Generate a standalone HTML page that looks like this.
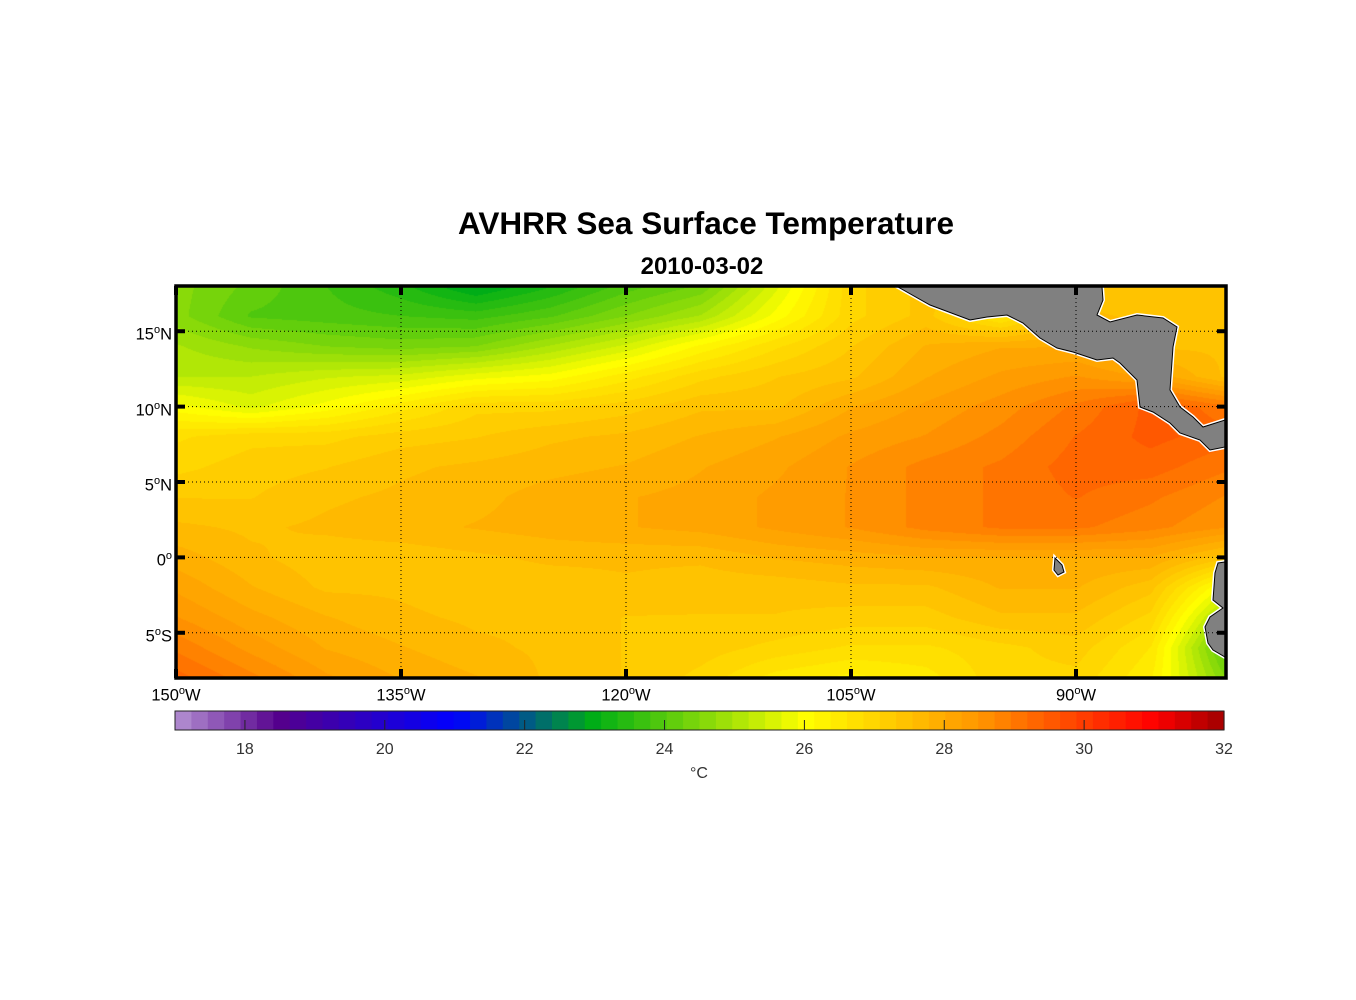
<!DOCTYPE html>
<html><head><meta charset="utf-8">
<style>
html,body{margin:0;padding:0;background:#fff;}
#wrap{position:relative;width:1356px;height:1000px;overflow:hidden;font-family:"Liberation Sans",sans-serif;}
.t{position:absolute;white-space:nowrap;}
canvas{position:absolute;}
svg{position:absolute;left:0;top:0;}
</style></head>
<body>
<div id="wrap">
<div class="t" style="left:0;width:1412px;text-align:center;top:205px;font-size:31.5px;font-weight:bold;">AVHRR Sea Surface Temperature</div>
<div class="t" style="left:0;width:1404px;text-align:center;top:253px;font-size:24px;font-weight:bold;">2010-03-02</div>
<canvas id="map" width="1050" height="392" style="left:176px;top:286px;"></canvas>
<svg id="ov" width="1356" height="1000"></svg>
<div id="labels"></div>
</div>
<script>
// ---- data ----
const lats = [18,16,14,12,10,8,6,4,2,0,-2,-4,-6,-8];
const lons = [-150,-145,-140,-135,-130,-125,-120,-115,-110,-105,-100,-95,-90,-85,-80];
const sstRow18 = [24.6,24.2,23.8,23.4,22.8,23.3,23.9,24.3,25.6,27.0,27.4,27.4,27.4,27.4,27.4];
const sstRow16 = [24.6,24.0,23.9,23.8,23.7,24.0,24.5,25.0,26.0,27.0,27.4,26.5,27.6,27.5,27.5];
const sstRow14 = [25.0,24.7,24.5,24.4,24.5,25.0,25.5,26.2,26.8,27.3,27.8,28.0,28.0,27.5,27.5];
const sstRow12 = [25.2,25.2,25.4,25.5,25.8,26.0,26.5,27.0,27.3,27.5,28.0,28.3,28.5,28.2,27.5];
const sstRow10 = [26.0,25.6,26.0,26.5,27.0,27.0,27.2,27.5,27.5,28.0,28.3,28.6,29.0,29.5,29.0];
const sstRow8  = [26.8,27.0,27.0,27.2,27.3,27.5,27.6,27.8,28.0,28.3,28.5,28.8,29.2,29.5,29.3];
const sstRow6  = [27.0,27.2,27.3,27.5,27.6,27.7,27.8,28.0,28.2,28.5,28.8,29.0,29.3,29.3,29.0];
const sstRow4  = [27.3,27.3,27.5,27.6,27.7,27.9,28.0,28.1,28.3,28.5,28.8,29.0,29.2,29.0,28.7];
const sstRow2  = [27.6,27.5,27.6,27.7,27.8,27.9,28.0,28.1,28.3,28.5,28.8,29.0,29.0,28.8,28.5];
const sstRow0  = [27.9,27.6,27.4,27.4,27.5,27.6,27.6,27.6,27.8,27.9,28.0,28.0,28.0,28.0,27.4];
const sstRowS2 = [28.2,27.8,27.5,27.5,27.4,27.4,27.5,27.4,27.4,27.5,27.5,27.8,27.8,27.4,25.8];
const sstRowS4 = [28.5,28.1,27.8,27.6,27.5,27.5,27.3,27.3,27.3,27.2,27.2,27.5,27.5,27.0,24.8];
const sstRowS6 = [28.9,28.4,28.0,27.8,27.6,27.5,27.3,27.2,27.0,26.8,26.8,27.0,27.2,26.6,24.0];
const sstRowS8 = [29.3,28.8,28.3,28.0,27.8,27.5,27.3,27.0,26.5,26.3,26.5,27.0,27.0,26.4,24.5];
const sst = [sstRow18,sstRow16,sstRow14,sstRow12,sstRow10,sstRow8,sstRow6,sstRow4,sstRow2,sstRow0,sstRowS2,sstRowS4,sstRowS6,sstRowS8];
const lonTicks = [-150,-135,-120,-105,-90];
const lonTickLabels = ["150","135","120","105","90"];
const latTicks = [15,10,5,0,-5];
const latTickLabels = ["15","10","5","0","5"];
const latTickSuffix = ["N","N","N","",'S'];
const cbarTicks = [18,20,22,24,26,28,30,32];
const cmin = 17, cmax = 32;

// ---- axes ----
const X0=176,X1=1226,Y0=286,Y1=678;
const lonMin=-150,lonMax=-80,latMin=-8,latMax=18;
const xs = lon => X0 + (lon-lonMin)/(lonMax-lonMin)*(X1-X0);
const ys = lat => Y0 + (latMax-lat)/(latMax-latMin)*(Y1-Y0);
const CB0=175,CB1=1224,CBY=711,CBH=19;
const xc = v => CB0 + (v-cmin)/(cmax-cmin)*(CB1-CB0);

const stops=[[17,[180,145,210]],[18.5,[85,0,140]],[21,[0,0,255]],[23,[0,175,20]],[26,[255,255,0]],[28.5,[255,150,0]],[31,[255,0,0]],[32,[160,0,0]]];
function cmap(v){
  const n=64; v=Math.max(cmin,Math.min(cmax-1e-6,v));
  const k=Math.floor((v-cmin)/(cmax-cmin)*n); v=cmin+(k+0.5)*(cmax-cmin)/n;
  for(let i=0;i<stops.length-1;i++){const a=stops[i],b=stops[i+1];
    if(v<=b[0]){const t=(v-a[0])/(b[0]-a[0]);return a[1].map((c,j)=>Math.round(c+(b[1][j]-c)*t));}}
  return stops[stops.length-1][1];
}
function sample(lon,lat){
  let fi=(lats[0]-lat)/(lats[0]-lats[lats.length-1])*(lats.length-1);
  let fj=(lon-lons[0])/(lons[lons.length-1]-lons[0])*(lons.length-1);
  fi=Math.max(0,Math.min(lats.length-1.0001,fi)); fj=Math.max(0,Math.min(lons.length-1.0001,fj));
  const i=Math.floor(fi),j=Math.floor(fj),a=fi-i,b=fj-j;
  return (sst[i][j]*(1-b)+sst[i][j+1]*b)*(1-a)+(sst[i+1][j]*(1-b)+sst[i+1][j+1]*b)*a;
}
const cv=document.getElementById('map'),ctx=cv.getContext('2d');
const img=ctx.createImageData(cv.width,cv.height);
for(let y=0;y<cv.height;y++)for(let x=0;x<cv.width;x++){
  const lon=lonMin+(x+0.5)/cv.width*(lonMax-lonMin), lat=latMax-(y+0.5)/cv.height*(latMax-latMin);
  const c=cmap(sample(lon,lat)); const p=(y*cv.width+x)*4;
  img.data[p]=c[0];img.data[p+1]=c[1];img.data[p+2]=c[2];img.data[p+3]=255;}
ctx.putImageData(img,0,0);

const NS='http://www.w3.org/2000/svg', ov=document.getElementById('ov');
function el(tag,attrs){const e=document.createElementNS(NS,tag);for(const k in attrs)e.setAttribute(k,attrs[k]);ov.appendChild(e);return e;}
const land1="M898,287 L930,305 L970,320 L987,317 L1007,315 L1023,323 L1040,338 L1057,348 L1073,352 L1097,360 L1113,358 L1120,363 L1137,380 L1140,407 L1153,412 L1170,423 L1180,433 L1200,440 L1210,450 L1225,447 L1225,420 L1203,427 L1193,417 L1180,407 L1170,390 L1173,347 L1177,327 L1163,318 L1137,315 L1110,322 L1097,315 L1103,300 L1102,287 Z";
const land2="M1225,562 L1218,563 L1215,573 L1213,600 L1223,608 L1210,617 L1205,627 L1208,643 L1213,650 L1225,657 Z";
const island="M1055,558 L1062,565 L1064,572 L1058,575 L1054,570 Z";
[land1,land2,island].forEach((d,i)=>{
  const p=el('path',{d:d,fill:'#808080',stroke:'#fff','stroke-width':4});
  
  
  const q=el('path',{d:d,fill:'#808080',stroke:'#000','stroke-width':1});
  
  
});
el('rect',{x:X0,y:Y0-6,width:X1-X0,height:6,fill:'#fff'});
el('rect',{x:X1,y:Y0,width:8,height:Y1-Y0,fill:'#fff'});
lonTicks.forEach(l=>{const g=el('line',{x1:xs(l),x2:xs(l),y1:Y0,y2:Y1,stroke:'#000','stroke-width':1,'stroke-dasharray':'1,3'});
  });
latTicks.forEach(l=>{const g=el('line',{x1:X0,x2:X1,y1:ys(l),y2:ys(l),stroke:'#000','stroke-width':1,'stroke-dasharray':'1,3'});
  });
const fr=el('rect',{x:X0,y:Y0,width:X1-X0,height:Y1-Y0,fill:'none',stroke:'#000','stroke-width':3.5});

lonTicks.forEach(l=>{[[Y0,Y0+9],[Y1-9,Y1]].forEach(a=>{const t=el('line',{x1:xs(l),x2:xs(l),y1:a[0],y2:a[1],stroke:'#000','stroke-width':4});
  });});
latTicks.forEach(l=>{[[X0,X0+9],[X1-9,X1]].forEach(a=>{const t=el('line',{x1:a[0],x2:a[1],y1:ys(l),y2:ys(l),stroke:'#000','stroke-width':4});
  });});
const nb=64;
for(let k=0;k<nb;k++){const v0=cmin+k*(cmax-cmin)/nb,v1=cmin+(k+1)*(cmax-cmin)/nb,c=cmap((v0+v1)/2);
  const r=el('rect',{x:xc(v0),y:CBY,width:xc(v1)-xc(v0)+0.6,height:CBH,fill:`rgb(${c})`});
  }
const cbf=el('rect',{x:CB0,y:CBY,width:CB1-CB0,height:CBH,fill:'none',stroke:'#222','stroke-width':1});

const L=document.getElementById('labels');
function lab(html,x,y,name,fs,align){const d=document.createElement('div');d.className='t';d.innerHTML=html;
  d.style.fontSize=(fs||15)+'px';d.style.top=y+'px';
  if(align==='r'){d.style.right=(1356-x)+'px';}else{d.style.left=x+'px';d.style.transform='translateX(-50%)';}
  
  
  L.appendChild(d);return d;}
cbarTicks.forEach(v=>{const t=el('line',{x1:xc(v),x2:xc(v),y1:CBY+CBH-10,y2:CBY+CBH,stroke:'#222','stroke-width':1});
  
  lab(String(v),xc(v),741,'colorbar-tick-label',16).style.color='#333';});
lab('&deg;C',699,765,'colorbar-unit-label',16).style.color='#333';
lonTicks.forEach((l,i)=>lab(lonTickLabels[i]+'<sup style="font-size:11px">o</sup>W',xs(l),685,'lon-tick-label',16.5));
latTicks.forEach((l,i)=>lab(latTickLabels[i]+'<sup style="font-size:11px">o</sup>'+latTickSuffix[i],172,ys(l)-7,'lat-tick-label',16.5,'r'));
</script>
</body></html>
